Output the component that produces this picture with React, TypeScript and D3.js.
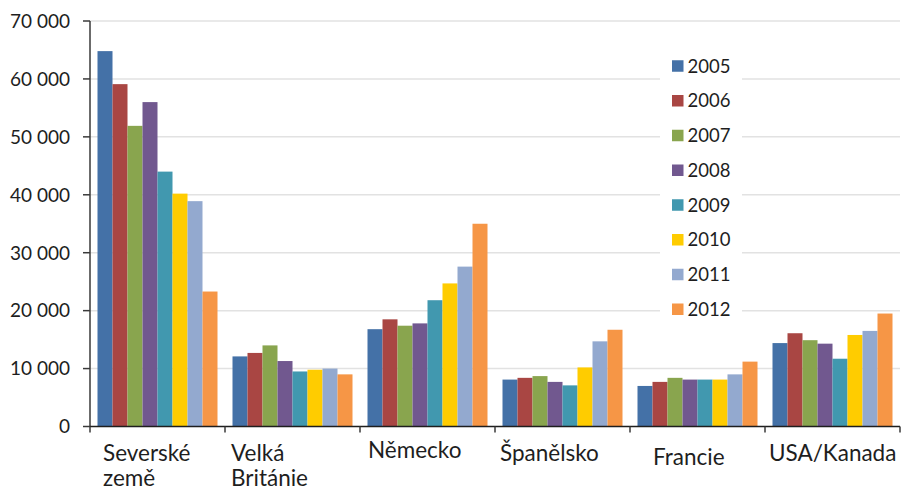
import React from "react";
import * as d3 from "d3";

const categories = ["Severské země", "Velká Británie", "Německo", "Španělsko", "Francie", "USA/Kanada"];
const years = ["2005", "2006", "2007", "2008", "2009", "2010", "2011", "2012"];
const v2005 = [64800, 12100, 16800, 8100, 7000, 14400];
const v2006 = [59100, 12700, 18500, 8400, 7700, 16100];
const v2007 = [51900, 14000, 17400, 8700, 8400, 14900];
const v2008 = [56000, 11300, 17800, 7700, 8100, 14300];
const v2009 = [44000, 9500, 21800, 7100, 8100, 11700];
const v2010 = [40200, 9800, 24700, 10200, 8100, 15800];
const v2011 = [38900, 10000, 27600, 14700, 9000, 16500];
const v2012 = [23300, 9000, 35000, 16700, 11200, 19500];
const yTicks = [0, 10000, 20000, 30000, 40000, 50000, 60000, 70000];

const seriesValues = [v2005, v2006, v2007, v2008, v2009, v2010, v2011, v2012];
const colors = ["#4471A7", "#A94643", "#89A54E", "#71588F", "#4198AF", "#FFCC00", "#93A9CF", "#F69646"];

// label layout (left offset inside band, baseline)
const labelLayout = [
  { dx: 13, y: 461 },
  { dx: 6, y: 461 },
  { dx: 8, y: 458 },
  { dx: 5, y: 461 },
  { dx: 23, y: 465 },
  { dx: 4, y: 461 },
];

const W = 903;
const H = 491;
const left = 90;
const right = 900;
const top = 21;
const bottom = 426.5;
const font = "Lato, 'Open Sans', sans-serif";

export default function App() {
  const x0 = d3.scaleBand<string>().domain(categories).range([left, right]).paddingInner(0).paddingOuter(0);
  const x1 = d3.scaleBand<string>().domain(years).range([0, x0.bandwidth()]).paddingInner(0).paddingOuter(0.5);
  const y = d3.scaleLinear().domain([0, 70000]).range([bottom, top]);
  const fmt = (v: number) => (v === 0 ? "0" : d3.format(",")(v).replace(/,/g, " "));

  const legendX = 660;
  const legendY0 = 66;
  const legendStep = 34.75;

  return (
    <svg width={W} height={H} style={{ position: "absolute", left: 0, top: 0, background: "#fff" }}>
      {yTicks.filter((t) => t > 0).map((t) => (
        <line key={t} x1={left} x2={right} y1={y(t)} y2={y(t)} stroke="#e2e2e2" strokeWidth={1.5} />
      ))}
      <rect x={legendX} y={48} width={82} height={280} fill="#fff" />
      {categories.map((c, ci) => (
        <g key={c} transform={`translate(${x0(c)},0)`}>
          {years.map((yr, si) => {
            const v = seriesValues[si][ci];
            return (
              <rect
                key={yr}
                x={x1(yr)}
                y={y(v)}
                width={x1.bandwidth()}
                height={y(0) - y(v)}
                fill={colors[si]}
              />
            );
          })}
        </g>
      ))}
      <line x1={left} x2={left} y1={top} y2={bottom} stroke="#3a3a3a" strokeWidth={1.5} />
      {yTicks.map((t) => (
        <g key={t}>
          <line x1={83} x2={left} y1={y(t)} y2={y(t)} stroke="#3a3a3a" strokeWidth={1.5} />
          <text x={70} y={y(t)} dy="0.36em" textAnchor="end" fontFamily={font} fontSize={19} fill="#1e1e1e">
            {fmt(t)}
          </text>
        </g>
      ))}
      <line x1={left} x2={right} y1={bottom} y2={bottom} stroke="#1e1e1e" strokeWidth={1.5} />
      {[...categories.map((c) => x0(c) as number), right].map((xx, i) => (
        <line key={i} x1={xx} x2={xx} y1={bottom} y2={bottom + 6} stroke="#3a3a3a" strokeWidth={1.5} />
      ))}
      {categories.map((c, ci) => {
        const words = c.split(" ");
        const lines = c === "Severské země" || c === "Velká Británie" ? words : [c];
        const lx = (x0(c) as number) + labelLayout[ci].dx;
        return (
          <text key={c} x={lx} y={labelLayout[ci].y} fontFamily={font} fontSize={22.5} fill="#1e1e1e">
            {lines.map((l, li) => (
              <tspan key={li} x={lx} dy={li === 0 ? 0 : 25}>
                {l}
              </tspan>
            ))}
          </text>
        );
      })}
      {years.map((yr, i) => (
        <g key={yr} transform={`translate(${legendX + 12},${legendY0 + i * legendStep})`}>
          <rect x={0} y={-5.75} width={11.5} height={11.5} fill={colors[i]} />
          <text x={15.5} y={0} dy="0.36em" fontFamily={font} fontSize={18.5} fill="#1e1e1e">
            {yr}
          </text>
        </g>
      ))}
    </svg>
  );
}
